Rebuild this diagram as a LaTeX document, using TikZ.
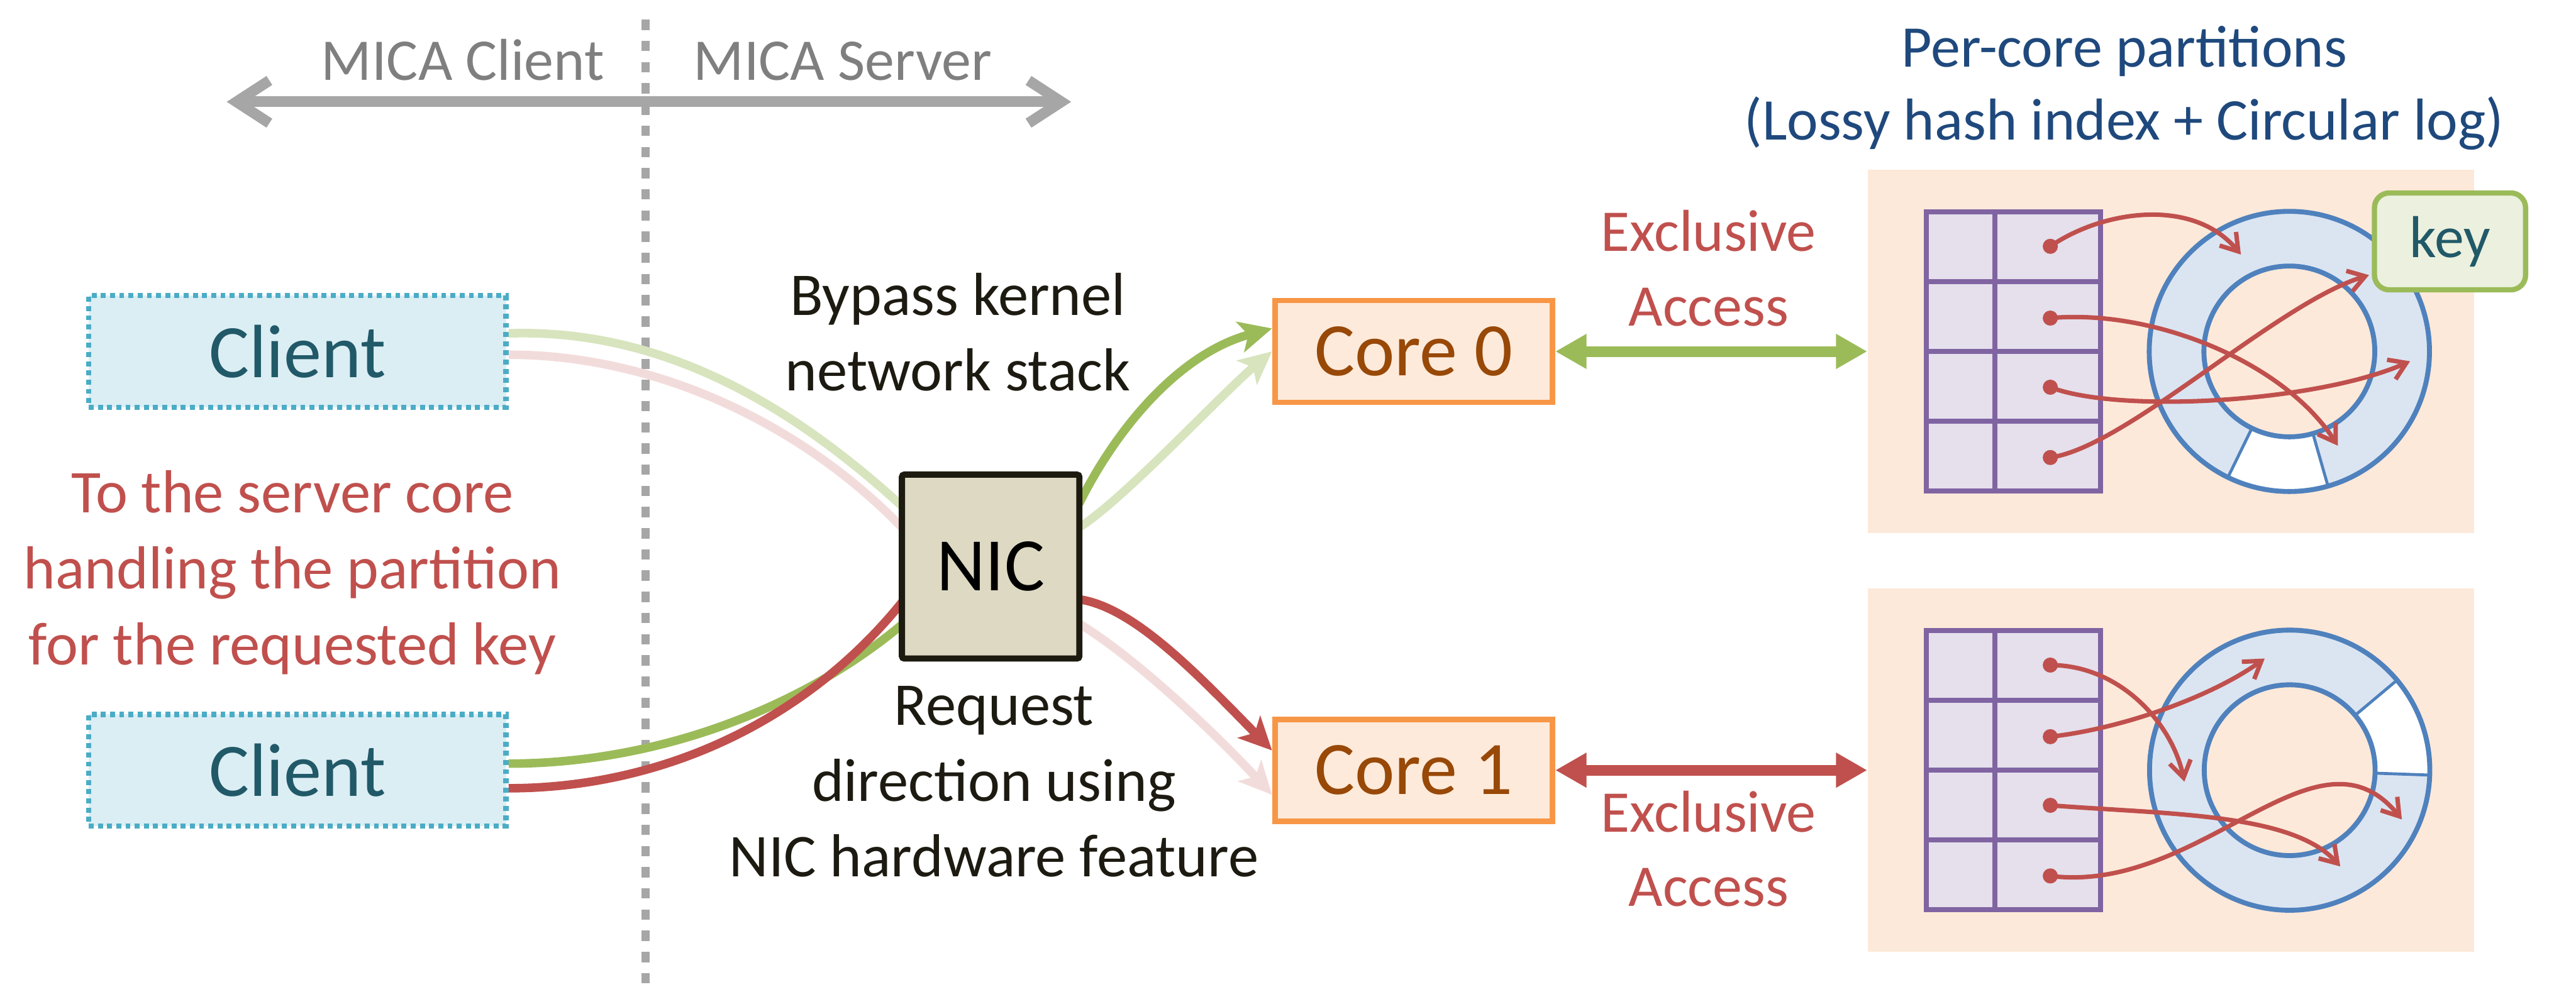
\documentclass[tikz,border=0pt]{standalone}
\usepackage{fontspec}
\setmainfont{Carlito}
\usetikzlibrary{arrows.meta,calc}
\definecolor{cgray}{HTML}{A6A6A6}
\definecolor{cgraytext}{HTML}{7F7F7F}
\definecolor{cred}{HTML}{C0504D}
\definecolor{cgreen}{HTML}{9BBB59}
\definecolor{clred}{HTML}{F2DCDB}
\definecolor{clgreen}{HTML}{D7E4BD}
\definecolor{cclientfill}{HTML}{DBEEF4}
\definecolor{cclientdraw}{HTML}{4BACC6}
\definecolor{cteal}{HTML}{215968}
\definecolor{cnicfill}{HTML}{DDD9C3}
\definecolor{cnicdraw}{HTML}{1D1B10}
\definecolor{ccorefill}{HTML}{FDEADA}
\definecolor{ccoredraw}{HTML}{F79646}
\definecolor{ccoretext}{HTML}{984807}
\definecolor{cpart}{HTML}{FDE9D9}
\definecolor{chashfill}{HTML}{E5E0EC}
\definecolor{chashdraw}{HTML}{8064A2}
\definecolor{cringfill}{HTML}{DBE5F1}
\definecolor{cringdraw}{HTML}{4F81BD}
\definecolor{ckeyfill}{HTML}{EBF1DE}
\definecolor{cnavy}{HTML}{1F497D}
\definecolor{ctext}{HTML}{1D1B11}
\begin{document}
\begin{tikzpicture}[x=1pt,y=-1pt,
  midtxt/.style={font=\fontsize{37}{45}\selectfont, inner sep=0pt, anchor=base},
  smtxt/.style={font=\fontsize{36}{44}\selectfont, inner sep=0pt, anchor=base},
  bigtxt/.style={font=\fontsize{46}{55}\selectfont, inner sep=0pt},
  clientbox/.style={bigtxt, text=cteal, fill=cclientfill, draw=cclientdraw, line width=3.2pt,
     dash pattern=on 3pt off 2.6pt, minimum width=254pt, minimum height=68pt},
  corebox/.style={bigtxt, text=ccoretext, fill=ccorefill, draw=ccoredraw, line width=3.4pt,
     minimum width=169pt, minimum height=62pt},
  partbox/.style={fill=cpart, minimum width=369pt, minimum height=221pt, inner sep=0pt},
  conn/.style={line width=5.2pt, -{Stealth[length=20pt,width=19pt,inset=5pt]}},
  excl/.style={line width=6.5pt, {Triangle[length=19pt,width=20pt]}-{Triangle[length=19pt,width=20pt]}},
  hashline/.style={draw=chashdraw, line width=3pt},
  ringline/.style={draw=cringdraw, line width=3pt},
  harrow/.style={draw=cred, line width=2.7pt, -{Straight Barb[length=10pt,width=13pt]}},
]
\useasboundingbox (0,0) rectangle (1568,604);

% divider and client/server arrow
\coordinate (dlt) at (393,12);
\coordinate (dlb) at (393,604);
\draw[cgray, line width=5pt, dash pattern=on 6.3pt off 6.6pt] (dlt) -- (dlb);
\coordinate (grl) at (138,62);
\coordinate (grr) at (652,62);
\draw[cgray, line width=6.5pt, {Straight Barb[length=20pt,width=26pt]}-{Straight Barb[length=20pt,width=26pt]}] (grl) -- (grr);
\node[smtxt, text=cgraytext] (mc) at (281.7,48.7) {MICA Client};
\node[smtxt, text=cgraytext] (ms) at (513,48.7) {MICA Server};

% clients
\node[clientbox] (c1) at (181,214) {Client};
\node[clientbox] (c2) at (181,469) {Client};
\node[midtxt, text=cred] (rt1) at (178,312) {To the server core};
\node[midtxt, text=cred] (rt2) at (178,358.5) {handling the partition};
\node[midtxt, text=cred] (rt3) at (178,405) {for the requested key};

% cores and NIC
\node[corebox] (core0) at (860.5,214) {Core 0};
\node[corebox] (core1) at (860.5,469) {Core 1};
\node[bigtxt, minimum width=108pt, minimum height=112pt] (nic) at (603,345) {};

% labels
\node[midtxt, text=ctext] (bp1) at (583,192) {Bypass kernel};
\node[midtxt, text=ctext] (bp2) at (583,237.8) {network stack};
\node[midtxt, text=ctext] (rq1) at (605,441.7) {Request};
\node[midtxt, text=ctext] (rq2) at (605,487.8) {direction using};
\node[midtxt, text=ctext] (rq3) at (605,533.8) {NIC hardware feature};

% connectors (faded first)
\draw[conn, clgreen] ($(c1.east)+(0,-11)$) .. controls +(92,-3) and +(-69,-63) .. ($(nic.west)+(0,-37)$)
   -- ($(nic.east)+(0,-24)$) .. controls +(28,-18) and +(-31,26) .. (core0.west);
\draw[conn, clred] ($(c1.east)+(0,2)$) .. controls +(92,0) and +(-59,-61) .. ($(nic.west)+(0,-24)$)
   -- ($(nic.east)+(0,35)$) .. controls +(33,20) and +(-36,-39) .. ($(core1.west)+(0,15)$);
\draw[conn, cgreen] ($(c2.east)+(0,-4)$) .. controls +(92,0) and +(-59,49.5) .. ($(nic.west)+(0,35.5)$)
   -- ($(nic.east)+(0,-39)$) .. controls +(23,-46) and +(-56,15) .. ($(core0.west)+(0,-14)$);
\draw[conn, cred] ($(c2.east)+(0,11)$) .. controls +(92,0) and +(-59,73) .. ($(nic.west)+(0,22)$)
   -- ($(nic.east)+(0,20)$) .. controls +(33,5) and +(-46,-47) .. ($(core1.west)+(0,-12)$);

\node[bigtxt, text=black, fill=cnicfill, draw=cnicdraw, line width=3.8pt, rounded corners=1.5pt,
      minimum width=108pt, minimum height=112pt] (nicbox) at (nic.center) {NIC};

% partitions
\node[partbox] (p0) at (1321.3,214) {};
\node[partbox] (p1) at (1321.3,469) {};
\draw[excl, cgreen] (core0.east) -- (core0.east -| p0.west);
\draw[excl, cred] (core1.east) -- (core1.east -| p1.west);
\node[smtxt, text=cred] (ex0a) at (1040,153) {Exclusive};
\node[smtxt, text=cred] (ex0b) at (1040,198.5) {Access};
\node[smtxt, text=cred] (ex1a) at (1040,506.6) {Exclusive};
\node[smtxt, text=cred] (ex1b) at (1040,552) {Access};
\node[smtxt, text=cnavy] (ti1) at (1293,40.8) {Per-core partitions};
\node[smtxt, text=cnavy] (ti2) at (1293,85.3) {(Lossy hash index + Circular log)};

% partition 0 contents
\begin{scope}[shift={(p0.center)}]
  \fill[chashfill] (-148.8,-85) rectangle (-42.8,85);
  \draw[hashline] (-148.8,-85) rectangle (-42.8,85);
  \draw[hashline] (-106.9,-85) -- (-106.9,85);
  \foreach \yy in {-42.5,0,42.5} \draw[hashline] (-148.8,\yy) -- (-42.8,\yy);
  \begin{scope}[shift={(72.2,0)}]
    \fill[cringfill] (0,0) circle (85.3);
    \begin{scope}
      \clip (0,0) circle (85.3);
      \fill[white] (0,0) -- (74:140) -- (116:140) -- cycle;
    \end{scope}
    \fill[cpart] (0,0) circle (52);
    \draw[ringline] (0,0) circle (85.3);
    \draw[ringline] (0,0) circle (52);
    \draw[ringline, line width=1.8pt] (74:52) -- (74:85.3) (116:52) -- (116:85.3);
  \end{scope}
  \node[font=\fontsize{36}{44}\selectfont, text=cteal, fill=ckeyfill, draw=cgreen, line width=3.2pt,
        rounded corners=9pt, minimum width=92pt, minimum height=59pt, inner sep=0pt] (key) at (170,-67) {key};
  \foreach \yy in {-64,-20.3,21.8,64.6} \fill[cred] (-73.3,\yy) circle (4.6);
  \draw[harrow] (-73.3,-64) .. controls (-41.3,-86) and (13.7,-94) .. (42.7,-59);
  \draw[harrow] (-73.3,-20.3) .. controls (-11.3,-26) and (68.7,6) .. (101.7,57.4);
  \draw[harrow] (-73.3,21.8) .. controls (-31.3,38) and (88.7,31) .. (145.7,6);
  \draw[harrow] (-73.3,64.6) .. controls (-26.3,58) and (63.7,-29) .. (120.7,-46.5);
\end{scope}

% partition 1 contents
\begin{scope}[shift={(p1.center)}]
  \fill[chashfill] (-148.8,-85) rectangle (-42.8,85);
  \draw[hashline] (-148.8,-85) rectangle (-42.8,85);
  \draw[hashline] (-106.9,-85) -- (-106.9,85);
  \foreach \yy in {-42.5,0,42.5} \draw[hashline] (-148.8,\yy) -- (-42.8,\yy);
  \begin{scope}[shift={(72.4,0)}]
    \fill[cringfill] (0,0) circle (85.3);
    \begin{scope}
      \clip (0,0) circle (85.3);
      \fill[white] (0,0) -- (-40:140) -- (2:140) -- cycle;
    \end{scope}
    \fill[cpart] (0,0) circle (52);
    \draw[ringline] (0,0) circle (85.3);
    \draw[ringline] (0,0) circle (52);
    \draw[ringline, line width=1.8pt] (-40:52) -- (-40:85.3) (2:52) -- (2:85.3);
  \end{scope}
  \foreach \yy in {-64,-20.4,21.4,64.4} \fill[cred] (-73.3,\yy) circle (4.6);
  \draw[harrow] (-73.3,-64) .. controls (-31.3,-64) and (0.7,-29) .. (8.3,7);
  \draw[harrow] (-73.3,-20.4) .. controls (-31.3,-25) and (23.7,-44) .. (57.2,-68);
  \draw[harrow] (-73.3,21.4) .. controls (-1.3,27) and (73.7,26) .. (103.2,58.6);
  \draw[harrow] (-73.3,64.4) .. controls (18.7,76) and (88.7,-34) .. (140.7,30);
\end{scope}
\end{tikzpicture}
\end{document}
